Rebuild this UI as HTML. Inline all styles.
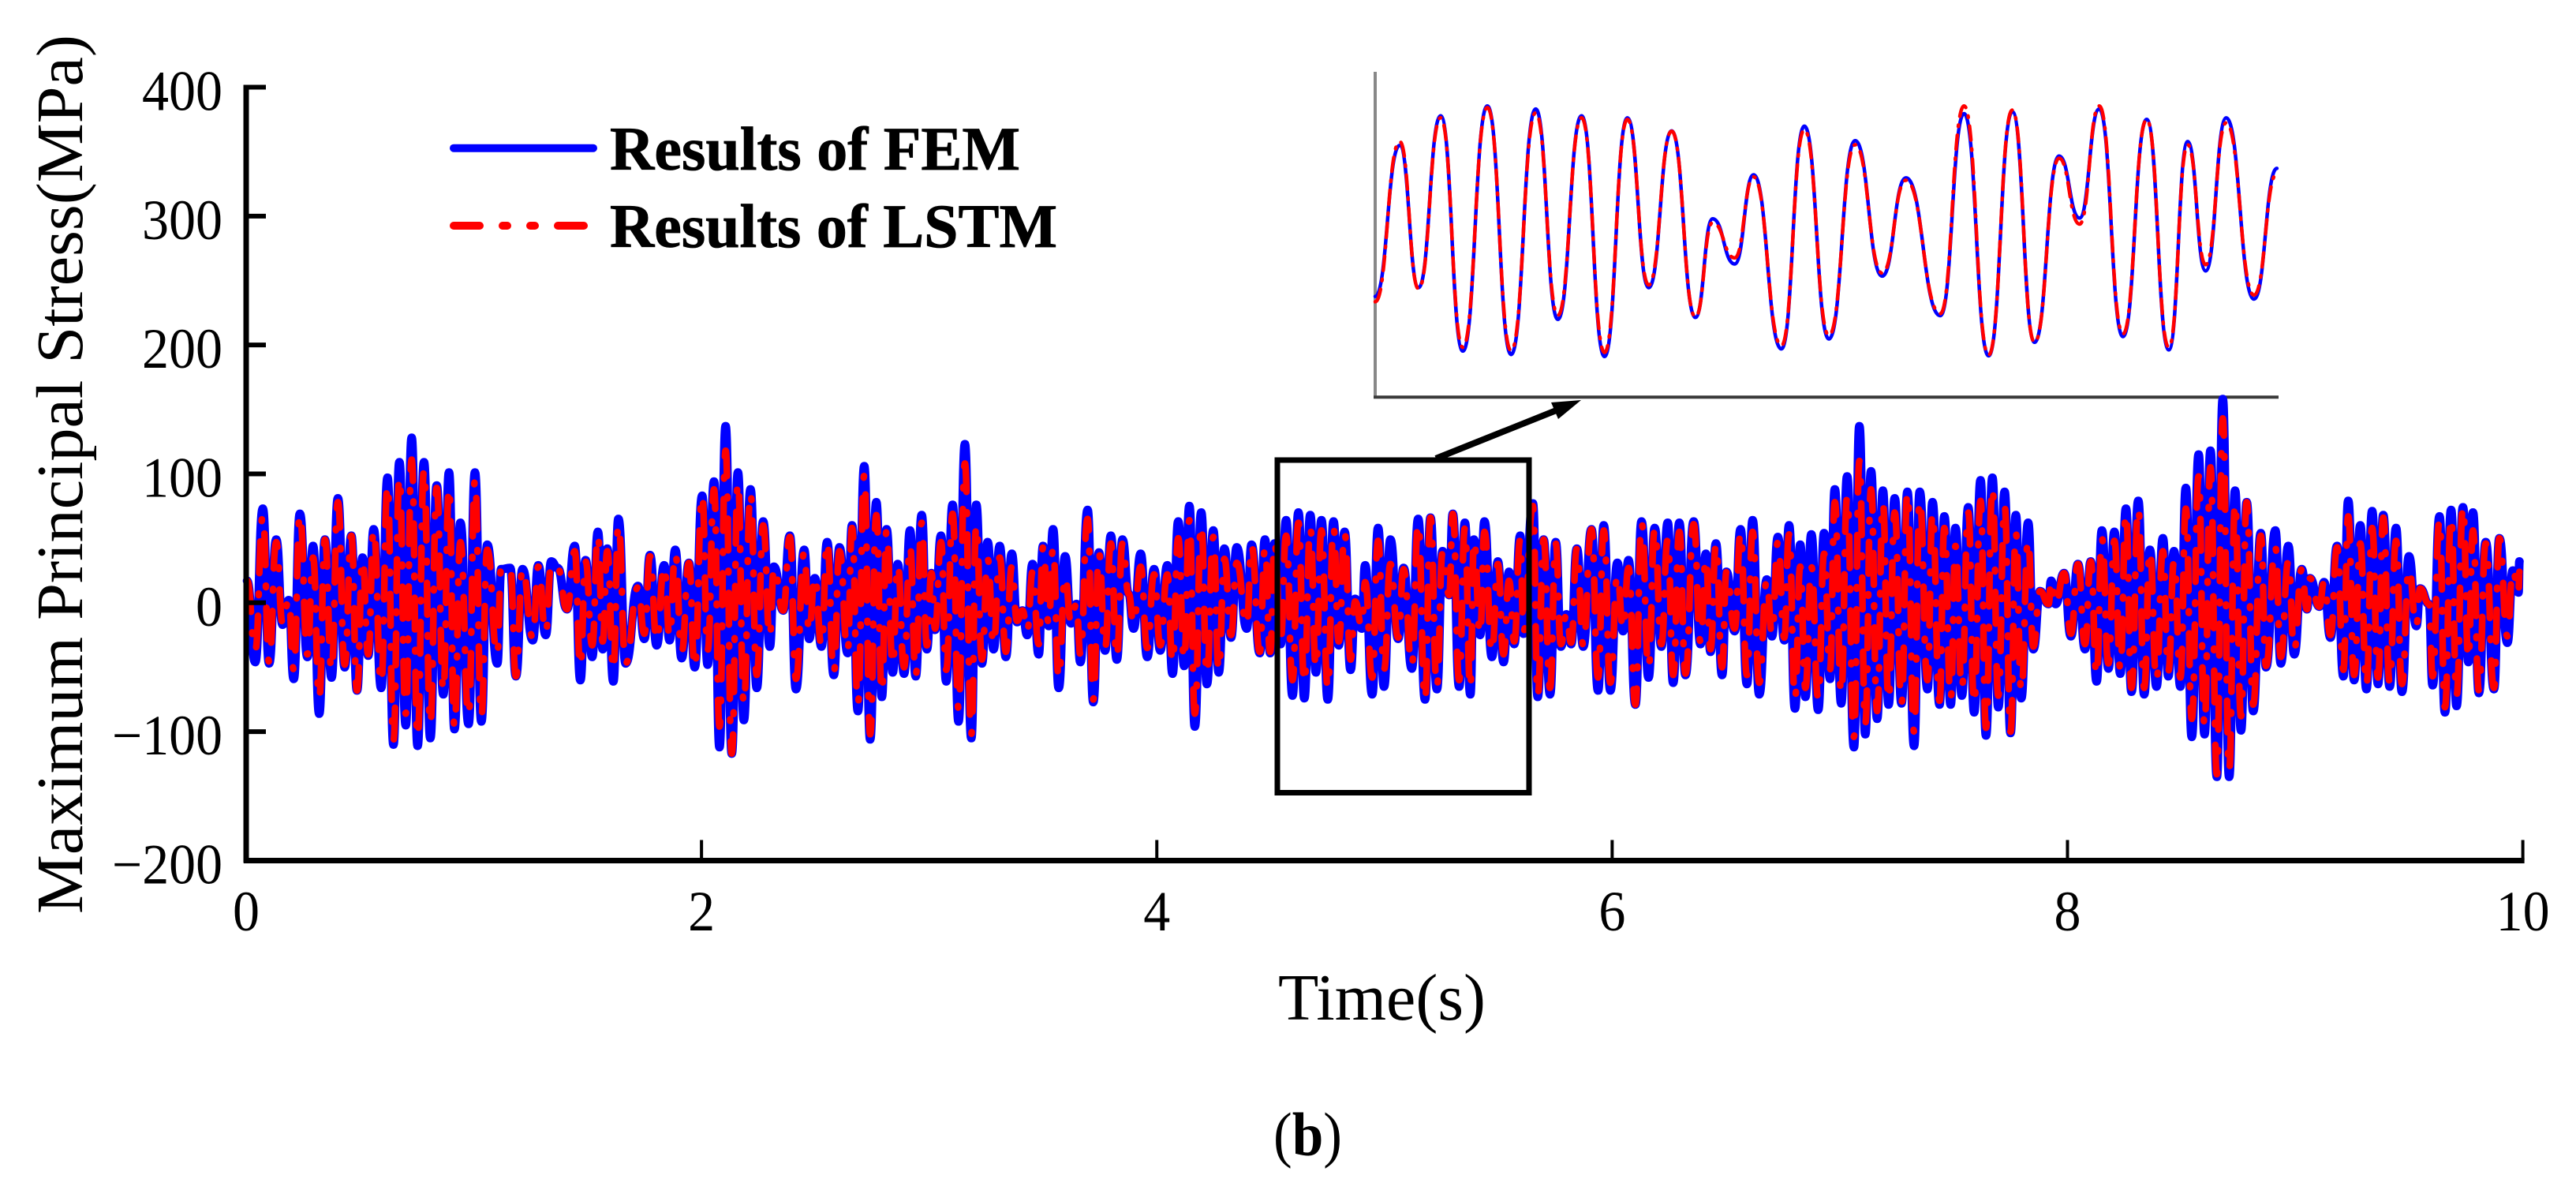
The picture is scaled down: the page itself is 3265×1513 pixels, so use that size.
<!DOCTYPE html>
<html lang="en">
<head>
<meta charset="utf-8">
<title>Maximum Principal Stress vs Time</title>
<style>
html,body{margin:0;padding:0;background:#fff;}
svg{display:block;}
text{font-family:"Liberation Serif",serif;fill:#000;}
</style>
</head>
<body>
<svg id="chart" xmlns="http://www.w3.org/2000/svg" width="3265" height="1513" viewBox="0 0 3265 1513">
  <rect x="0" y="0" width="3265" height="1513" fill="#fff"/>
  <g id="inset"></g>
  <g id="series"></g>
  <g id="axes"></g>

  <rect x="1619" y="583" width="319" height="421.5" fill="none" stroke="#000" stroke-width="7"/>
  <line x1="1820" y1="581" x2="1985" y2="515" stroke="#000" stroke-width="8"/>
  <polygon points="2004,507 1966,510 1975,531" fill="#000"/>

  <g>
    <line x1="575" y1="187.7" x2="752" y2="187.7" stroke="#0000ff" stroke-width="10" stroke-linecap="round"/>
    <text x="773" y="215" font-size="78" font-weight="bold" stroke="#000" stroke-width="0.8" textLength="520" lengthAdjust="spacingAndGlyphs">Results of FEM</text>
    <line x1="575" y1="286" x2="741" y2="286" stroke="#ff0000" stroke-width="10" stroke-linecap="round" stroke-dasharray="33 29 6 29 6 29 33"/>
    <text x="773" y="313" font-size="78" font-weight="bold" stroke="#000" stroke-width="0.8" textLength="567" lengthAdjust="spacingAndGlyphs">Results of LSTM</text>
  </g>

  <text transform="translate(104,1158) rotate(-90)" x="0" y="0" font-size="84" textLength="1114" lengthAdjust="spacingAndGlyphs">Maximum Principal Stress(MPa)</text>
  <text x="1620" y="1292" font-size="84" textLength="263" lengthAdjust="spacingAndGlyphs">Time(s)</text>
  <text x="1614" y="1464" font-size="78" textLength="87" lengthAdjust="spacingAndGlyphs">(<tspan font-weight="bold">b</tspan>)</text>
</svg>

<script>
// ---- axis tick labels ----
const xTicks = [0, 2, 4, 6, 8, 10];
const yTicks = [-200, -100, 0, 100, 200, 300, 400];

// ---- main series: peaks of each oscillation (seconds / MPa) ----
const upperTimes = [
 .004,.073,.132,.187,.236,.294,.346,.403,.462,.511,.560,.621,.673,.727,.781,.837,.891,.941,1.005,1.059,1.120,1.160,1.214,1.283,1.340,1.368,1.443,1.491,1.545,1.586,1.635,1.721,1.774,1.836,1.885,1.945,2.003,2.055,2.106,2.160,2.215,2.271,2.318,2.388,2.451,2.498,
 2.552,2.606,2.661,2.715,2.768,2.813,2.862,2.916,2.967,3.010,3.052,3.103,3.157,3.207,3.257,3.310,3.363,3.410,3.454,3.500,3.544,3.597,3.647,3.696,3.746,3.798,3.849,3.876,3.929,3.988,4.046,4.094,4.143,4.195,4.248,4.297,4.351,4.416,4.475,4.517,4.568,4.622,4.674,4.723,4.776,4.825,4.871,4.915,4.972,
 5.026,5.084,5.148,5.202,5.255,5.300,5.353,5.393,5.439,5.498,5.547,5.596,5.652,5.699,5.752,5.799,5.845,5.909,5.963,6.023,6.072,6.129,6.187,6.244,6.295,6.358,6.412,6.456,6.502,6.564,6.617,6.679,6.728,6.777,6.826,6.875,6.931,6.978,7.032,7.086,7.137,7.189,7.241,7.297,7.351,7.407,7.459,
 7.508,7.564,7.618,7.670,7.724,7.773,7.827,7.879,7.928,7.985,8.046,8.102,8.151,8.206,8.257,8.311,8.362,8.419,8.468,8.520,8.576,8.628,8.682,8.736,8.787,8.849,8.913,8.970,9.029,9.065,9.127,9.184,9.233,9.286,9.338,9.387,9.443,9.500,9.549,9.588,9.634,9.685,9.737,9.781,9.837,9.897,9.956,9.985
];
const femUpper = [
 17,73,49,2,69,44,49,81,52,35,57,97,109,128,109,91,101,62,101,45,26,27,26,29,32,27,44,33,55,42,65,13,37,29,41,31,83,94,137,101,88,63,28,52,41,19,
 47,43,60,106,78,57,30,56,68,23,52,76,123,76,47,44,38,-6,30,44,57,36,-1,72,39,52,49,7,38,26,29,63,75,70,56,42,43,45,49,46,64,70,68,64,63,55,3,29,58,
 49,27,65,66,40,69,62,49,63,32,24,52,77,49,47,-9,42,57,60,31,33,63,58,62,62,63,38,46,24,57,64,18,51,60,45,53,54,88,98,137,102,87,81,86,86,78,67,
 58,74,95,97,86,68,62,9,17,23,30,32,56,55,73,79,41,50,40,89,115,118,158,87,78,54,56,44,26,19,16,44,79,60,71,68,58,36,11,-1,67,72,74,70,47,50,25,32
];
const lstmUpper = [
 17,67,47,2,68,35,49,78,52,33,56,91,97,111,103,89,89,47,95,41,27,27,26,28,30,27,40,32,52,40,60,12,36,28,38,31,83,88,118,93,85,60,27,51,39,20,
 47,40,58,99,68,56,29,44,62,23,47,69,108,60,34,35,28,-6,24,43,42,20,-1,65,38,46,46,7,28,22,22,50,64,60,51,34,31,44,42,46,52,62,58,56,58,54,1,16,48,
 30,26,61,66,39,69,58,48,55,30,17,49,75,49,46,-9,42,57,56,21,27,62,57,49,55,61,34,45,24,54,55,17,47,53,28,28,38,78,82,110,88,77,70,85,79,69,58,
 44,70,79,89,75,54,48,9,17,23,30,32,50,48,69,73,40,40,32,73,98,105,143,77,78,52,43,32,26,19,16,43,67,46,58,66,48,26,11,-1,64,66,74,56,46,50,25,24
];

// ---- main series: troughs of each oscillation (seconds / MPa) ----
const lowerTimes = [
 .040,.101,.160,.209,.269,.321,.375,.433,.487,.536,.593,.647,.701,.753,.809,.866,.915,.977,1.033,1.103,1.185,1.259,1.316,1.409,1.468,1.520,1.566,1.613,1.667,1.749,1.803,1.860,1.913,1.970,2.027,2.079,2.133,2.186,2.243,2.300,2.359,2.415,2.473,
 2.527,2.581,2.642,2.687,2.741,2.792,2.840,2.890,2.941,2.990,3.026,3.075,3.129,3.185,3.232,3.283,3.337,3.386,3.431,3.481,3.525,3.569,3.623,3.664,3.721,3.773,3.824,3.898,3.958,4.015,4.069,4.120,4.167,4.220,4.272,4.326,4.395,4.452,4.498,4.544,4.596,4.648,4.699,4.751,4.799,4.851,4.900,4.946,4.998,
 5.060,5.120,5.178,5.230,5.284,5.328,5.377,5.420,5.472,5.523,5.570,5.611,5.673,5.727,5.775,5.820,5.873,5.938,5.992,6.048,6.102,6.160,6.216,6.268,6.322,6.388,6.432,6.483,6.538,6.592,6.646,6.702,6.756,6.803,6.849,6.905,6.957,7.006,7.062,7.112,7.164,7.214,7.271,7.326,7.385,7.438,
 7.487,7.536,7.590,7.642,7.696,7.750,7.797,7.850,7.917,7.948,8.015,8.077,8.128,8.180,8.232,8.281,8.337,8.391,8.443,8.496,8.546,8.602,8.656,8.710,8.762,8.816,8.872,8.937,8.996,9.052,9.106,9.155,9.212,9.259,9.313,9.364,9.415,9.469,9.532,9.604,9.658,9.709,9.761,9.807,9.873,9.932,9.981
];
const femLower = [
 -46,-47,-17,-59,-42,-86,-58,-50,-68,-41,-66,-110,-95,-111,-105,-71,-98,-94,-92,-47,-57,-29,-25,-5,-60,-42,-36,-61,-47,-28,-33,-29,-43,-50,-48,-112,-117,-91,-66,-34,-6,-67,-28,
 -34,-56,-39,-84,-106,-73,-54,-55,-57,-36,-21,-61,-92,-105,-47,-36,-42,-15,-25,-40,-18,-66,-16,-46,-77,-37,-44,-20,-42,-37,-55,-49,-96,-63,-54,-27,-20,-39,-39,-32,-72,-74,-54,-75,-33,-52,-20,-71,-65,
 -28,-51,-75,-67,6,-65,-71,-25,-42,-46,-32,-24,-73,-71,-34,-32,-34,-68,-68,-22,-79,-58,-34,-62,-56,-32,-38,-56,-22,-63,-71,-26,-29,-82,-73,-83,-59,-78,-112,-102,-90,-79,-78,-111,-67,-79,
 -79,-72,-85,-103,-81,-101,-74,-36,-1,-1,-26,-36,-61,-51,-55,-69,-71,-65,-57,-65,-104,-102,-135,-135,-99,-84,-50,-47,-40,-5,-3,-27,-57,-60,-67,-63,-65,-69,-18,-64,-85,-80,-46,-70,-67,-31,8
];
const lstmLower = [
 -37,-46,-16,-52,-40,-74,-52,-48,-68,-40,-62,-107,-86,-104,-94,-68,-96,-87,-88,-40,-57,-27,-23,-5,-49,-33,-30,-52,-47,-24,-29,-26,-38,-50,-37,-96,-117,-78,-56,-26,-6,-59,-22,
 -33,-54,-37,-78,-102,-69,-48,-50,-56,-33,-20,-52,-82,-102,-44,-32,-38,-14,-22,-32,-16,-58,-15,-40,-75,-35,-42,-16,-35,-33,-46,-44,-86,-55,-52,-25,-17,-38,-38,-28,-60,-62,-50,-66,-30,-44,-18,-58,-52,
 -27,-48,-75,-65,6,-60,-66,-24,-38,-40,-30,-22,-72,-66,-32,-31,-33,-58,-62,-20,-79,-50,-32,-56,-55,-30,-36,-50,-20,-56,-62,-24,-27,-74,-66,-74,-52,-70,-104,-94,-84,-75,-78,-100,-60,-76,
 -74,-66,-78,-97,-72,-100,-68,-34,-1,-1,-24,-32,-56,-47,-51,-66,-66,-60,-53,-58,-90,-95,-133,-130,-88,-79,-49,-42,-36,-5,-3,-25,-52,-56,-64,-58,-62,-63,-18,-57,-81,-72,-43,-68,-66,-26,8
];

// ---- inset series: extrema between 4.53 s and 5.63 s ----
const insetTimes = [4.533,4.563,4.586,4.613,4.640,4.670,4.699,4.729,4.756,4.785,4.813,4.841,4.867,4.895,4.924,4.945,4.972,4.995,5.029,5.057,5.087,5.119,5.152,5.181,5.223,5.252,5.282,5.311,5.338,5.368,5.393,5.417,5.446,5.475,5.502,5.525,5.547,5.572,5.606,5.634];
const insetFem = [-42.8,46.6,-37.6,64.1,-75.2,70,-77.2,68.2,-56.4,64.1,-78.4,62.9,-37.6,55.2,-55.3,3.2,-23.6,29.2,-73.9,58,-68,49.4,-30.8,27.4,-54.2,65.4,-78,66.6,-70,40.3,3.6,68.2,-66.6,62,-74.5,48.9,-27.7,62.9,-44.4,33];
const insetLstm = [-46,48.9,-38.3,63,-73,69,-75,66,-54,63,-76,62,-36,55,-55,1,-20,28,-72,56,-66,47,-29,26,-53,70,-77.5,67.5,-70,39,0,70,-65,62,-73,47,-24,60,-42,30];

// ---- axis functions ----
const xScale = t => 312 + t * 288.56;
const yScale = v => 763.8 - v * 1.6332;
const insetX = t => 1743 + (t - 4.533) * 1038.1;
const insetY = v => 284 - v * 2.14;

const NS = 'http://www.w3.org/2000/svg';
function mergeExtrema(uT, uV, lT, lV) {
  const pts = [];
  uT.forEach((t, i) => pts.push([t, uV[i]]));
  lT.forEach((t, i) => pts.push([t, lV[i]]));
  return pts.sort((a, b) => a[0] - b[0]);
}
// Curve through extrema: horizontal tangent at every peak and trough.
function curvePath(pts, fx, fy) {
  let d = 'M' + fx(pts[0][0]).toFixed(1) + ' ' + fy(pts[0][1]).toFixed(1);
  for (let i = 1; i < pts.length; i++) {
    const x0 = fx(pts[i - 1][0]), y0 = fy(pts[i - 1][1]);
    const x1 = fx(pts[i][0]), y1 = fy(pts[i][1]);
    const m = (x0 + x1) / 2;
    d += 'C' + m.toFixed(1) + ' ' + y0.toFixed(1) + ' ' + m.toFixed(1) + ' ' + y1.toFixed(1) + ' ' + x1.toFixed(1) + ' ' + y1.toFixed(1);
  }
  return d;
}
function makeCurve(parent, d, color, width, dash) {
  const p = document.createElementNS(NS, 'path');
  p.setAttribute('d', d);
  p.setAttribute('fill', 'none');
  p.setAttribute('stroke', color);
  p.setAttribute('stroke-width', width);
  p.setAttribute('stroke-linejoin', 'round');
  p.setAttribute('stroke-linecap', 'round');
  if (dash) p.setAttribute('stroke-dasharray', dash);
  parent.appendChild(p);
  return p;
}
function makeLine(parent, x1, y1, x2, y2, color, width) {
  const l = document.createElementNS(NS, 'line');
  l.setAttribute('x1', x1);
  l.setAttribute('y1', y1);
  l.setAttribute('x2', x2);
  l.setAttribute('y2', y2);
  l.setAttribute('stroke', color);
  l.setAttribute('stroke-width', width);
  parent.appendChild(l);
  return l;
}
function makeLabel(parent, x, y, str, anchor, perChar) {
  const t = document.createElementNS(NS, 'text');
  t.setAttribute('x', x);
  t.setAttribute('y', y);
  t.setAttribute('font-size', 72);
  t.setAttribute('text-anchor', anchor);
  let w = 0;
  for (const c of str) w += (c === '\u2212') ? 38 : perChar;
  t.setAttribute('textLength', w);
  t.setAttribute('lengthAdjust', 'spacingAndGlyphs');
  t.textContent = str;
  parent.appendChild(t);
  return t;
}

// ---- inset ----
const insetG = document.getElementById('inset');
const insetYAxis = makeLine(insetG, 1743, 91, 1743, 503, '#888', 4);


const insetXAxis = makeLine(insetG, 1741, 503.3, 2888, 503.3, '#3a3a3a', 4);


const insetFemLine = makeCurve(insetG, curvePath(insetTimes.map((t, i) => [t, insetFem[i]]), insetX, insetY), '#0000ff', 4.5);


const insetLstmLine = makeCurve(insetG, curvePath(insetTimes.map((t, i) => [t, insetLstm[i]]), insetX, insetY), '#ff0000', 4.5, '18 11 2 11');



// ---- main series ----
const seriesG = document.getElementById('series');
const femLine = makeCurve(seriesG, curvePath(mergeExtrema(upperTimes, femUpper, lowerTimes, femLower), xScale, yScale), '#0000ff', 11);


const lstmLine = makeCurve(seriesG, curvePath(mergeExtrema(upperTimes, lstmUpper, lowerTimes, lstmLower), xScale, yScale), '#ff0000', 8.5, '40 26 2 26');



// ---- axes ----
const axesG = document.getElementById('axes');
const yAxisLine = makeLine(axesG, 312, yScale(400) - 3, 312, yScale(-200) + 3, '#000', 7);


const xAxisLine = makeLine(axesG, 309, yScale(-200), xScale(10) + 2, yScale(-200), '#000', 7);


yTicks.forEach(v => {
  const tick = makeLine(axesG, 312, yScale(v), 337, yScale(v), '#000', 6);
  
  
  const label = makeLabel(axesG, 282, yScale(v) + 29, String(v).replace('-', '\u2212'), 'end', 34);
  
  
});
xTicks.forEach(v => {
  const tick = makeLine(axesG, xScale(v), yScale(-200), xScale(v), yScale(-200) - 26, '#000', 4);
  
  
  const label = makeLabel(axesG, xScale(v), 1179, String(v), 'middle', 34);
  
  
});
</script>
</body>
</html>
